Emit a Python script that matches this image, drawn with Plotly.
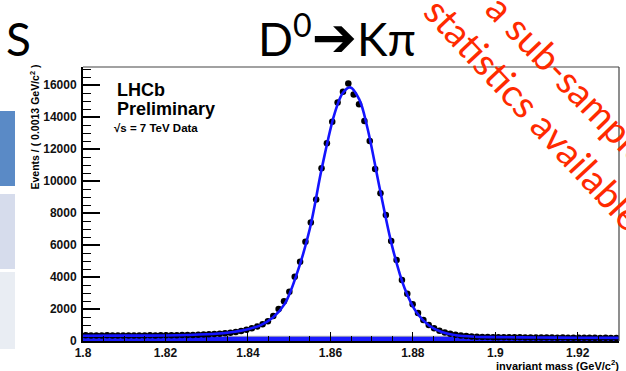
import plotly.graph_objects as go

# ---- figure geometry (pixels) ----
W, H = 626, 371
PL, PR, PT, PB = 83, 619, 67, 341   # plot-area edges

# ---- histogram of D0 -> K pi candidates ----
mass_lo = 1.80
mass_hi = 1.93
bin_width = 0.0013
counts = [
    355, 345, 350, 340, 352, 345, 340, 350, 345, 338,
    348, 345, 352, 350, 358, 355, 362, 360, 368, 375,
    380, 390, 400, 415, 430, 450, 480, 520, 570, 630,
    700, 790, 900, 1040, 1230, 1560, 2000, 2480, 3080, 4020,
    4960, 6200, 7400, 8850, 10800, 12360, 13700, 14900, 15580, 16100,
    15400, 14790, 13750, 12500, 10750, 9230, 7875, 6250, 5060, 3810,
    2950, 2300, 1750, 1320, 1000, 790, 640, 530, 450, 390,
    345, 310, 285, 265, 250, 245, 238, 242, 232, 235,
    228, 230, 222, 226, 218, 221, 214, 217, 210, 212,
    206, 209, 202, 205, 198, 201, 195, 198, 192, 195,
]
bin_centers = [mass_lo + bin_width * (i + 0.5) for i in range(len(counts))]

# ---- total fit curve ----
fit_mass = [1.800, 1.810, 1.820, 1.830, 1.835, 1.840, 1.843, 1.846, 1.849, 1.852,
            1.855, 1.858, 1.861, 1.863, 1.8648, 1.867, 1.869, 1.872, 1.875, 1.878,
            1.881, 1.884, 1.887, 1.890, 1.895, 1.900, 1.910, 1.920, 1.930]
fit_events = [330, 335, 345, 420, 520, 740, 980, 1450, 2350, 4300,
              7000, 10900, 14200, 15500, 15850, 15100, 13300, 9500, 5900, 3300,
              1750, 950, 560, 380, 270, 240, 220, 205, 195]

# ---- background components ----
bkg_mass = [1.80, 1.93]
bkg_events = [110, 110]
peaking_mass = [1.822, 1.893]
peaking_events = [330, 330]

# ---- axis ticks ----
x_ticks = [1.80, 1.82, 1.84, 1.86, 1.88, 1.90, 1.92]
x_ticklabels = ["1.8", "1.82", "1.84", "1.86", "1.88", "1.9", "1.92"]
y_ticks = [0, 2000, 4000, 6000, 8000, 10000, 12000, 14000, 16000]
y_ticklabels = ["0", "2000", "4000", "6000", "8000", "10000", "12000", "14000", "16000"]
y_top = 17125


def px(xp):
    return (xp - PL) / (PR - PL)


def py(yp):
    return (PB - yp) / (PB - PT)


ROOT_FONT = "Liberation Sans"

fig = go.Figure()

fig.add_trace(go.Scatter(
    x=peaking_mass, y=peaking_events, mode="lines", fill="tozeroy",
    line=dict(color="rgba(0,0,0,0)", width=0), fillcolor="#b4b4b4",
    hoverinfo="skip", showlegend=False))

fig.add_trace(go.Scatter(
    x=bkg_mass, y=bkg_events, mode="lines",
    line=dict(color="#1a1aff", width=5),
    showlegend=False))

fig.add_trace(go.Scatter(
    x=bin_centers, y=counts, mode="markers",
    marker=dict(color="black", size=6.5, line=dict(width=0)),
    showlegend=False))

fig.add_trace(go.Scatter(
    x=fit_mass, y=fit_events, mode="lines",
    line=dict(color="#1414ff", width=2.6, shape="spline", smoothing=1.0),
    showlegend=False))

tickfont = dict(family=ROOT_FONT, size=12, color="#111111", weight="bold")

fig.update_xaxes(
    range=[mass_lo, mass_hi], tickvals=x_ticks, ticktext=x_ticklabels,
    ticks="inside", ticklen=9, tickwidth=1, tickcolor="black",
    minor=dict(dtick=0.005, tick0=mass_lo, ticks="inside", ticklen=5,
               tickcolor="black", tickwidth=1),
    showline=True, linecolor="black", linewidth=2, mirror=False,
    showgrid=False, zeroline=False, tickfont=tickfont, ticklabelstandoff=0)

fig.update_yaxes(
    range=[0, y_top], tickvals=y_ticks, ticktext=y_ticklabels,
    ticks="inside", ticklen=17, tickwidth=1.5, tickcolor="black",
    minor=dict(dtick=500, tick0=0, ticks="inside", ticklen=8,
               tickcolor="black", tickwidth=1),
    showline=True, linecolor="black", linewidth=2, mirror=False,
    showgrid=False, zeroline=False, tickfont=tickfont, ticklabelstandoff=2)

shapes = [
    # top and right frame of the plot
    dict(type="line", xref="paper", yref="paper", x0=0, x1=1, y0=1, y1=1,
         line=dict(color="#444444", width=1.2)),
    dict(type="line", xref="paper", yref="paper", x0=1, x1=1, y0=0, y1=1,
         line=dict(color="#444444", width=1.2)),
    # slide navigation boxes on the left edge
    dict(type="rect", xref="paper", yref="paper", x0=px(-2), x1=px(15),
         y0=py(186), y1=py(111), fillcolor="#5a8ac6", line=dict(width=0)),
    dict(type="rect", xref="paper", yref="paper", x0=px(-2), x1=px(15),
         y0=py(269), y1=py(194), fillcolor="#d6dcec", line=dict(width=0)),
    dict(type="rect", xref="paper", yref="paper", x0=px(-2), x1=px(15),
         y0=py(349), y1=py(272), fillcolor="#e9edf3", line=dict(width=0)),
]

annotations = [
    dict(text="LHCb", x=px(115), y=py(78), xanchor="left", yanchor="top",
         font=dict(family=ROOT_FONT, size=18, color="black", weight="bold")),
    dict(text="Preliminary", x=px(115), y=py(97), xanchor="left", yanchor="top",
         font=dict(family=ROOT_FONT, size=18, color="black", weight="bold")),
    dict(text="\u221As = 7 TeV Data", x=px(112), y=py(120), xanchor="left", yanchor="top",
         font=dict(family=ROOT_FONT, size=11.5, color="black", weight="bold")),
    dict(text="Events / ( 0.0013 GeV/c<sup>2</sup> )", textangle=-90,
         x=px(34), y=py(63), xanchor="center", yanchor="top",
         font=dict(family=ROOT_FONT, size=10.5, color="black", weight="bold")),
    dict(text="invariant mass (GeV/c<sup>2</sup>)", x=px(621), y=py(365),
         xanchor="right", yanchor="middle",
         font=dict(family=ROOT_FONT, size=11, color="black", weight="bold")),
    # slide headings
    dict(text="D<sup>0</sup><span style=\"font-family:DejaVu Sans;font-size:54px\">\u2794</span>K\u03c0",
         x=px(337), y=py(37), xanchor="center", yanchor="middle",
         font=dict(family="Lato", size=46, color="black")),
    dict(text="S", x=px(4), y=py(39), xanchor="left", yanchor="middle",
         font=dict(family="Lato", size=46, color="black")),
    # red stamp across the corner
    dict(text="a sub-sample", textangle=46, x=px(570), y=py(79),
         xanchor="center", yanchor="middle",
         font=dict(family="Lato", size=38, color="#ff2a00")),
    dict(text="statistics available", textangle=47, x=px(535), y=py(113),
         xanchor="center", yanchor="middle",
         font=dict(family="Lato", size=38, color="#ff2a00")),
]
for a in annotations:
    a.update(xref="paper", yref="paper", showarrow=False)

fig.update_layout(
    width=W, height=H, autosize=False,
    margin=dict(l=PL, r=W - PR, t=PT, b=H - PB, pad=0),
    paper_bgcolor="white", plot_bgcolor="white",
    shapes=shapes, annotations=annotations, showlegend=False)

fig.write_html("out.html")
